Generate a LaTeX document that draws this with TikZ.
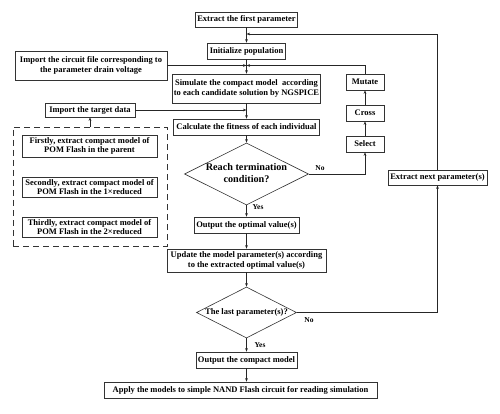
\documentclass[tikz,border=0pt]{standalone}
\usepackage{fontspec}
\setmainfont{Liberation Serif}
\usetikzlibrary{shapes.geometric,arrows.meta,shadows}
\begin{document}
\begin{tikzpicture}[x=1pt,y=-1pt,
  box/.style={draw=black!80,line width=0.6pt,fill=white,inner sep=0.5pt,align=center,
    font=\fontsize{8.5}{9.6}\selectfont\bfseries,
    drop shadow={shadow xshift=0.7pt,shadow yshift=-0.7pt,fill=black!35,opacity=1}},
  dia/.style={draw=black!80,line width=0.6pt,diamond,fill=white,inner sep=0pt,align=center},
  lbl/.style={font=\fontsize{7.5}{8}\selectfont\bfseries,inner sep=0pt},
  arr/.style={draw=black!85,line width=0.6pt,-{Stealth[length=3.5pt,width=2.6pt]}},
  ln/.style={draw=black!85,line width=0.6pt}]
\useasboundingbox (0,0) rectangle (500,414);
\fill[white] (0,0) rectangle (500,414);
% main column
\node[box,minimum width=102pt,minimum height=15pt] (first) at (246.5,19.5) {Extract the first parameter};
\node[box,minimum width=78pt,minimum height=16pt] (init) at (246.5,51) {Initialize population};
\node[box,minimum width=148pt,minimum height=29pt] (sim) at (246.5,88.5) {Simulate the compact model\ \ according\\to each candidate solution by NGSPICE};
\node[box,minimum width=146pt,minimum height=16pt] (calc) at (246.5,127) {Calculate the fitness of each individual};
\node[dia,minimum width=124pt,minimum height=62pt] (reach) at (246.5,174) {};
\node[font=\fontsize{10.2}{11.5}\selectfont\bfseries,align=center] at (246.5,173) {Reach termination\\condition?};
\node[box,minimum width=105pt,minimum height=16pt] (opt) at (246.5,225) {Output the optimal value(s)};
\node[box,minimum width=159pt,minimum height=23pt] (upd) at (246.5,260.5) {Update the model parameter(s) according\\to the extracted optimal value(s)};
\node[dia,minimum width=100pt,minimum height=51pt] (last) at (246.5,312.5) {};
\node[font=\fontsize{8.5}{9.6}\selectfont\bfseries] at (246.5,312.5) {The last parameter(s)?};
\node[box,minimum width=101pt,minimum height=16pt] (outc) at (246.5,360) {Output the compact model};
\node[box,minimum width=273pt,minimum height=16pt] (apply) at (240.5,390) {Apply the models to simple NAND Flash circuit for reading simulation};
% GA loop
\node[box,minimum width=38pt,minimum height=16pt] (mut) at (365,82) {Mutate};
\node[box,minimum width=38pt,minimum height=16pt] (cross) at (365,113) {Cross};
\node[box,minimum width=38pt,minimum height=16pt] (sel) at (365,144) {Select};
% right
\node[box,minimum width=99pt,minimum height=15pt] (next) at (437.5,177.5) {Extract next parameter(s)};
% left
\node[box,minimum width=152pt,minimum height=29pt] (circ) at (91,65.5) {Import the circuit file corresponding to\\the parameter drain voltage};
\node[box,minimum width=90pt,minimum height=14pt] (tgt) at (90,110) {Import the target data};
\node[draw=black!80,line width=0.8pt,dash pattern=on 6pt off 4pt,minimum width=154pt,minimum height=119pt,inner sep=0pt] (dbox) at (90,186.5) {};
\node[box,minimum width=135pt,minimum height=22pt] (f1) at (89.5,146) {Firstly, extract compact model of\\POM Flash in the parent};
\node[box,minimum width=135pt,minimum height=20pt] (f2) at (89.5,187) {Secondly, extract compact model of\\POM Flash in the 1\texttimes reduced};
\node[box,minimum width=135pt,minimum height=20pt] (f3) at (89.5,227) {Thirdly, extract compact model of\\POM Flash in the 2\texttimes reduced};
% junctions
\coordinate (j0) at (246.5,34);
\coordinate (j1) at (246.5,65.5);
\coordinate (j2) at (246.5,110);
% main arrows
\draw[arr] (first) -- (init);
\draw[arr] (init) -- (sim);
\draw[arr] (sim) -- (calc);
\draw[arr] (calc) -- (reach.north);
\draw[arr] (reach.south) -- (opt);
\draw[arr] (opt) -- (upd);
\draw[arr] (upd) -- (last.north);
\draw[arr] (last.south) -- (outc);
\draw[arr] (outc.south) -- (outc.south |- apply.north);
% side arrows
\draw[arr] (circ.east) -- (j1);
\draw[arr] (mut.north) |- (j1);
\draw[arr] (tgt.east) -- (j2);
\draw[arr] (tgt.south |- dbox.north) -- (tgt.south);
\draw[arr] (reach.east) -| (sel.south);
\draw[arr] (sel) -- (cross);
\draw[arr] (cross) -- (mut);
\draw[arr] (last.east) -| (next.south);
\draw[arr] (next.north) |- (j0);
% labels
\node[lbl] at (320,168) {No};
\node[lbl] at (258,207) {Yes};
\node[lbl] at (309,320) {No};
\node[lbl] at (260,345) {Yes};
\end{tikzpicture}
\end{document}
